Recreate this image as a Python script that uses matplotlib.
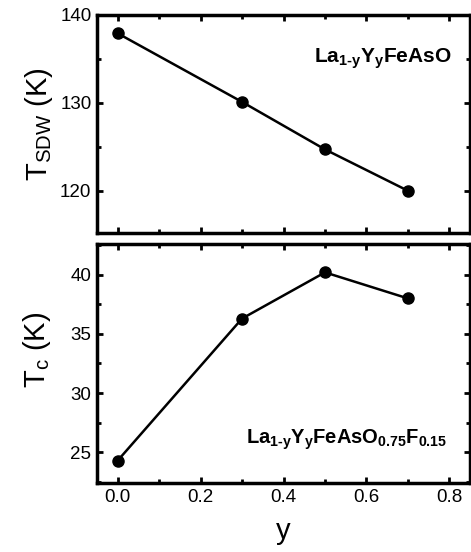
"""
T_SDW and Tc versus Y content y for La1-yYyFeAsO(F)
"""
import matplotlib
matplotlib.use('Agg')
import matplotlib.pyplot as plt
from matplotlib.ticker import MultipleLocator, FormatStrFormatter

plt.rcParams['font.family'] = ['Liberation Sans', 'DejaVu Sans']
plt.rcParams['mathtext.fontset'] = 'custom'
plt.rcParams['mathtext.rm'] = 'Liberation Sans'
plt.rcParams['mathtext.bf'] = 'Liberation Sans:bold'
plt.rcParams['mathtext.it'] = 'Liberation Sans:italic'

# data
y_sdw = [0.0, 0.3, 0.5, 0.7]
t_sdw = [137.9, 130.1, 124.7, 120.0]
y_sc = [0.0, 0.3, 0.5, 0.7]
t_c = [24.3, 36.3, 40.2, 38.0]

fig = plt.figure(figsize=(4.71, 5.52), dpi=100)
ax1 = fig.add_axes([0.206, 0.578, 0.792, 0.395])
ax2 = fig.add_axes([0.206, 0.125, 0.792, 0.433])

for ax in (ax1, ax2):
    for s in ax.spines.values():
        s.set_linewidth(2.5)
    ax.tick_params(which='both', direction='in', top=True, right=True,
                   width=2, labelsize=13.5, pad=4)
    ax.tick_params(which='major', length=4)
    ax.tick_params(which='minor', length=3)
    ax.set_xlim(-0.05, 0.85)
    ax.xaxis.set_major_locator(MultipleLocator(0.2))
    ax.xaxis.set_minor_locator(MultipleLocator(0.1))

# top panel
ax1.plot(y_sdw, t_sdw, 'k-o', lw=1.8, ms=8)
ax1.set_ylim(115.2, 140)
ax1.yaxis.set_major_locator(MultipleLocator(10))
ax1.yaxis.set_minor_locator(MultipleLocator(5))
ax1.tick_params(labelbottom=False)
ax1.set_ylabel(r'T$_{\rm SDW}$ (K)', fontsize=21, labelpad=4)
ax1.text(0.95, 0.80, '$\\mathbf{La_{1\u2010y}Y_{y}FeAsO}$', transform=ax1.transAxes,
         ha='right', va='center', fontsize=15)

# bottom panel
ax2.plot(y_sc, t_c, 'k-o', lw=1.8, ms=8)
ax2.set_ylim(22.4, 42.6)
ax2.yaxis.set_major_locator(MultipleLocator(5))
ax2.yaxis.set_minor_locator(MultipleLocator(2.5))
ax2.xaxis.set_major_formatter(FormatStrFormatter('%.1f'))
ax2.set_ylabel(r'T$_{\rm c}$ (K)', fontsize=21)
ax2.yaxis.set_label_coords(-0.118, 0.555)
ax2.set_xlabel('y', fontsize=21, labelpad=8)
ax2.text(0.94, 0.18, '$\\mathbf{La_{1\u2010y}Y_{y}FeAsO_{0.75}F_{0.15}}$', transform=ax2.transAxes,
         ha='right', va='center', fontsize=14.5)

plt.savefig('out.png', dpi=100)
